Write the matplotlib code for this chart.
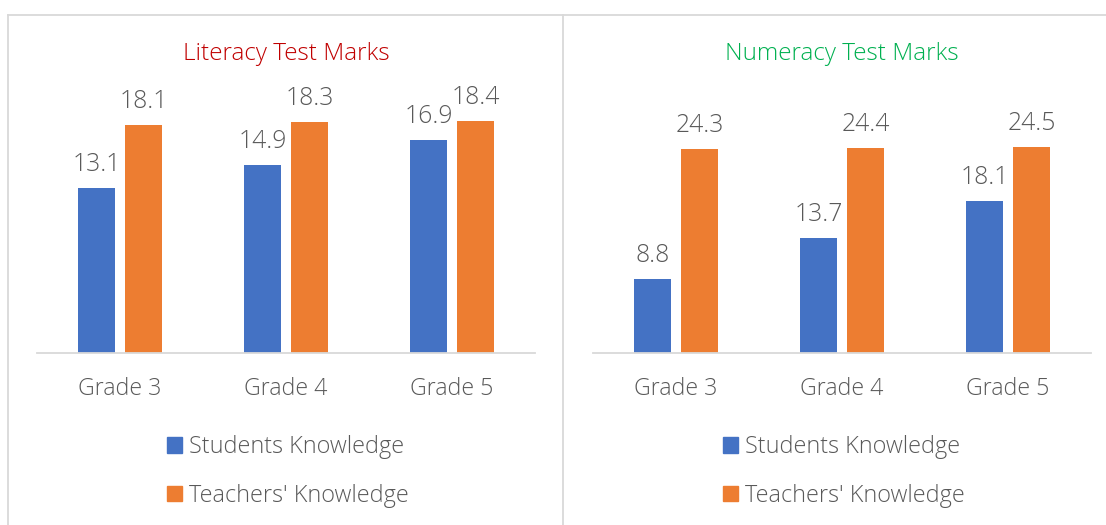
import numpy as np
import matplotlib
matplotlib.use("Agg")
import matplotlib.pyplot as plt
from matplotlib.patches import Patch
from matplotlib.lines import Line2D

plt.rcParams['font.family'] = ['Open Sans', 'DejaVu Sans']
plt.rcParams['font.weight'] = 300

grades = ["Grade 3", "Grade 4", "Grade 5"]
series = ["Students Knowledge", "Teachers' Knowledge"]
literacy_students = [13.1, 14.9, 16.9]
literacy_teachers = [18.1, 18.3, 18.4]
numeracy_students = [8.8, 13.7, 18.1]
numeracy_teachers = [24.3, 24.4, 24.5]

blue = "#4472C4"
orange = "#ED7D31"
grey = "#595959"

W, H = 1106, 525
fig = plt.figure(figsize=(W / 100, H / 100), dpi=100)

# panel borders
for x0, y0, x1, y1 in [(8, 15, 1106, 15), (8, 15, 8, 525), (563, 15, 563, 525)]:
    fig.add_artist(Line2D([x0 / W, x1 / W], [1 - y0 / H, 1 - y1 / H],
                          color="#D9D9D9", lw=1.3, transform=fig.transFigure))


def panel(left_px, students, teachers, ymax, title, tcolor):
    ax = fig.add_axes([left_px / W, (H - 353) / H, 498 / W, 252 / H])
    x = np.arange(len(grades))
    bw = 0.223
    b1 = ax.bar(x - bw / 2 - 0.03, students, bw, color=blue)
    b2 = ax.bar(x + bw / 2 + 0.03, teachers, bw, color=orange)
    ax.bar_label(b1, fmt="%.1f", padding=8, fontsize=17.8, color=grey)
    ax.bar_label(b2, fmt="%.1f", padding=8, fontsize=17.8, color=grey)
    ax.set_xlim(-0.5, 2.5)
    ax.set_ylim(0, ymax)
    ax.set_xticks(x)
    ax.set_xticklabels(grades, fontsize=16.7, color=grey)
    ax.tick_params(axis="x", length=0, pad=17)
    ax.set_yticks([])
    for s in ["top", "left", "right"]:
        ax.spines[s].set_visible(False)
    ax.spines["bottom"].set_color("#D9D9D9")
    ax.spines["bottom"].set_linewidth(1.3)
    fig.text((left_px + 249) / W, 1 - 54 / H, title, color=tcolor,
             fontsize=17.5, ha="center", va="center")
    handles = [Patch(color=blue), Patch(color=orange)]
    ax.legend(handles, series, loc="center left",
              bbox_to_anchor=(0.261, -0.47),
              frameon=False, fontsize=16.8, labelcolor=grey,
              handlelength=0.64, handleheight=0.64, handletextpad=0.29,
              labelspacing=1.05, borderaxespad=0, borderpad=0)
    return ax


panel(37, literacy_students, literacy_teachers, 20, "Literacy Test Marks", "#C00000")
panel(593, numeracy_students, numeracy_teachers, 30, "Numeracy Test Marks", "#00B050")

fig.savefig("out.png", dpi=100)
